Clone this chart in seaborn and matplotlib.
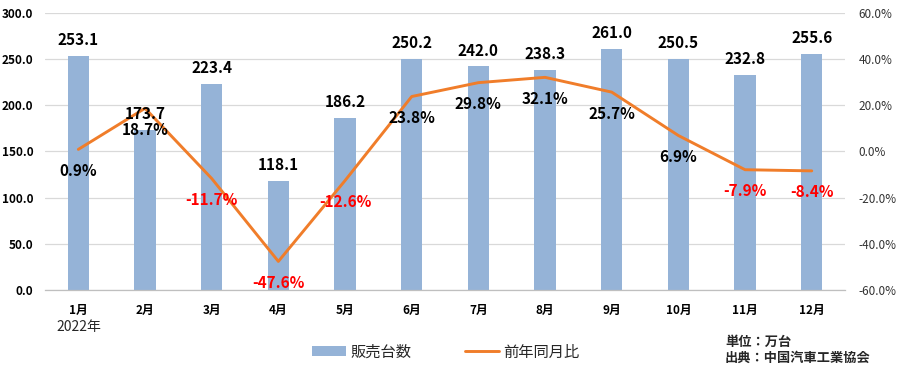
import numpy as np
import pandas as pd
import matplotlib
matplotlib.use("Agg")
import matplotlib.pyplot as plt
import seaborn as sns
from matplotlib.patches import Patch
from matplotlib.lines import Line2D
from matplotlib.ticker import FixedLocator, FuncFormatter

months = ["1月", "2月", "3月", "4月", "5月", "6月", "7月", "8月", "9月", "10月", "11月", "12月"]
sales = [253.1, 173.7, 223.4, 118.1, 186.2, 250.2, 242.0, 238.3, 261.0, 250.5, 232.8, 255.6]
yoy = [0.9, 18.7, -11.7, -47.6, -12.6, 23.8, 29.8, 32.1, 25.7, 6.9, -7.9, -8.4]
left_ticks = [0, 50, 100, 150, 200, 250, 300]
right_ticks = [-60, -40, -20, 0, 20, 40, 60]
year_label = "2022年"
legend_labels = ["販売台数", "前年同月比"]
notes = ["単位：万台", "出典：中国汽車工業協会"]

BAR = "#95B3D7"
LINE = "#F07D2A"
FAM = ["Noto Sans CJK JP", "DejaVu Sans"]

sns.set_theme(style="white")
plt.rcParams["font.family"] = FAM

df = pd.DataFrame({"month": months, "sales": sales, "yoy": yoy})
df["pos"] = np.arange(len(months))

fig = plt.figure(figsize=(9, 3.69), dpi=100)
ax = fig.add_axes([0.05, 0.214, 0.889, 0.751])
sns.barplot(data=df, x="month", y="sales", color=BAR, width=0.32, ax=ax,
            saturation=1, edgecolor="none")
ax.set_xlim(-0.5, 11.5)
ax.set_ylim(0, 300)
ax.yaxis.set_major_locator(FixedLocator(left_ticks))
ax.yaxis.set_major_formatter(FuncFormatter(lambda v, p: f"{v:.1f}"))
ax.grid(axis="y", color="#D9D9D9", linewidth=0.9)
ax.set_axisbelow(True)
for s in ["top", "right", "left"]:
    ax.spines[s].set_visible(False)
ax.spines["bottom"].set_color("#BFBFBF")
ax.spines["bottom"].set_linewidth(0.9)
ax.set_xlabel("")
ax.set_ylabel("")
ax.tick_params(axis="y", length=0, pad=8.5, labelsize=8.5, colors="black")
ax.tick_params(axis="x", which="major", length=0, pad=10, labelsize=8.5, colors="black")
ax.set_xticks(np.arange(-0.5, 12, 1), minor=True)
ax.tick_params(axis="x", which="minor", length=4, color="#BFBFBF", width=0.9)
for t in ax.get_yticklabels() + ax.get_xticklabels():
    t.set_fontweight("bold")

ax2 = ax.twinx()
ax2.set_position([0.05, 0.214, 0.889, 0.751])
sns.lineplot(data=df, x="pos", y="yoy", ax=ax2, color=LINE, linewidth=2.1,
             legend=False, sort=False)
ax2.set_ylim(-60, 60)
ax2.set_xlim(-0.5, 11.5)
ax2.set_xlabel("")
ax2.set_ylabel("")
ax2.yaxis.set_major_locator(FixedLocator(right_ticks))
ax2.yaxis.set_major_formatter(FuncFormatter(lambda v, p: f"{v:.1f}%"))
ax2.tick_params(axis="y", length=0, pad=9.5, labelsize=8.5, colors="#333333")
for s in ax2.spines.values():
    s.set_visible(False)
ax2.grid(False)

# value labels above bars (drawn on top of the line)
for i, v in enumerate(sales):
    ax2.annotate(f"{v:.1f}", (i, v), xycoords=ax.transData, xytext=(0, 11.5),
                 textcoords="offset points", ha="center", va="center", fontsize=11,
                 fontweight="bold", color="black", zorder=10)

for i, v in enumerate(yoy):
    col = "#FF0000" if v < 0 else "black"
    ax2.annotate(f"{v:.1f}%", (i, v), xytext=(0, -15.5), textcoords="offset points",
                 ha="center", va="center", fontsize=11, fontweight="bold", color=col,
                 zorder=10)

fig.text(79 / 900, 1 - 327 / 369, year_label, ha="center", va="center", fontsize=10)

handles = [Patch(facecolor=BAR, edgecolor="none"),
           Line2D([0], [0], color=LINE, linewidth=2.1)]
fig.legend(handles, legend_labels, loc="center", bbox_to_anchor=(446 / 900, 1 - 352 / 369),
           ncol=2, frameon=False, fontsize=11, handlelength=2.2, handleheight=0.6,
           columnspacing=3.5, handletextpad=0.3)

fig.text(725 / 900, 1 - 342 / 369, notes[0], ha="left", va="center", fontsize=9.5, fontweight="bold")
fig.text(725 / 900, 1 - 358 / 369, notes[1], ha="left", va="center", fontsize=9.5, fontweight="bold")

fig.savefig("out.png", dpi=100)
